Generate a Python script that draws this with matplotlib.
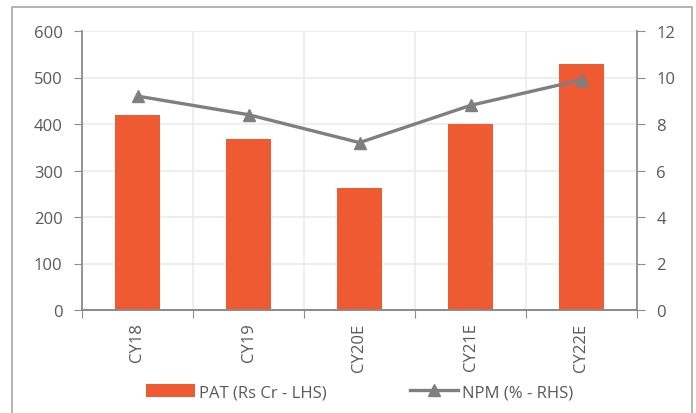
import matplotlib.pyplot as plt
import matplotlib.patches as mpatches
import numpy as np

years = ['CY18', 'CY19', 'CY20E', 'CY21E', 'CY22E']
pat = [419, 368, 262, 400, 530]
npm = [9.2, 8.4, 7.2, 8.8, 9.9]

bar_color = '#EF5A32'
line_color = '#7F7F7F'
text_color = '#595959'
axis_color = '#8C8C8C'
grid_color = '#EBEBEB'

plt.rcParams['font.family'] = ['Open Sans', 'DejaVu Sans']
plt.rcParams['font.size'] = 12

fig = plt.figure(figsize=(6.96, 4.14), dpi=100)
W, H = 696, 414
ax = fig.add_axes([82 / W, 1 - 311 / H, (637 - 82) / W, (311 - 32) / H])
ax2 = ax.twinx()

x = np.arange(len(years))
ax.bar(x, pat, width=0.4, color=bar_color, zorder=3, label='PAT (Rs Cr - LHS)')
ax2.plot(x, npm, color=line_color, lw=2.4, marker='^', markersize=8,
         zorder=4, label='NPM (% - RHS)')

ax.set_xlim(-0.5, len(years) - 0.5)
ax.set_ylim(0, 600)
ax.set_yticks(range(0, 601, 100))
ax2.set_ylim(0, 12)
ax2.set_yticks(range(0, 13, 2))

# grid: horizontal at value ticks, vertical at category boundaries
ax.set_xticks(np.arange(-0.5, len(years)), minor=False)
ax.set_xticklabels([''] * (len(years) + 1))
ax.set_xticks(x, minor=True)
ax.set_xticklabels(years, minor=True, rotation=90, color=text_color)
ax.grid(True, which='major', color=grid_color, lw=1.2, zorder=0)
ax.set_axisbelow(True)

ax.tick_params(axis='x', which='major', length=6, color=axis_color, direction='out')
ax.tick_params(axis='x', which='minor', length=0, pad=9)
ax.tick_params(axis='y', length=6, color=axis_color, colors=text_color, pad=8)
ax2.tick_params(axis='y', length=6, color=axis_color, colors=text_color, pad=8)
for lab in ax.get_yticklabels() + ax2.get_yticklabels():
    lab.set_color(text_color)

for a in (ax, ax2):
    a.spines['top'].set_visible(False)
    for s in ('left', 'right', 'bottom'):
        a.spines[s].set_color(axis_color)
        a.spines[s].set_linewidth(1.3)
ax.spines['right'].set_visible(False)
ax2.spines['left'].set_visible(False)

# outer chart border
fig.patches.append(mpatches.Rectangle((12 / W, -0.05), (692 - 12) / W, 1.05 - 8 / H,
                                      transform=fig.transFigure, fill=False,
                                      edgecolor='#A6A6A6', lw=1.2))

h1, l1 = ax.get_legend_handles_labels()
h2, l2 = ax2.get_legend_handles_labels()
fig.legend(h1 + h2, l1 + l2, loc='center', bbox_to_anchor=(360 / W, 1 - 393 / H),
           ncol=2, frameon=False, handlelength=2.9, handleheight=0.8,
           columnspacing=5.0, handletextpad=0.25, labelcolor=text_color)

fig.savefig('out.png', dpi=100)
